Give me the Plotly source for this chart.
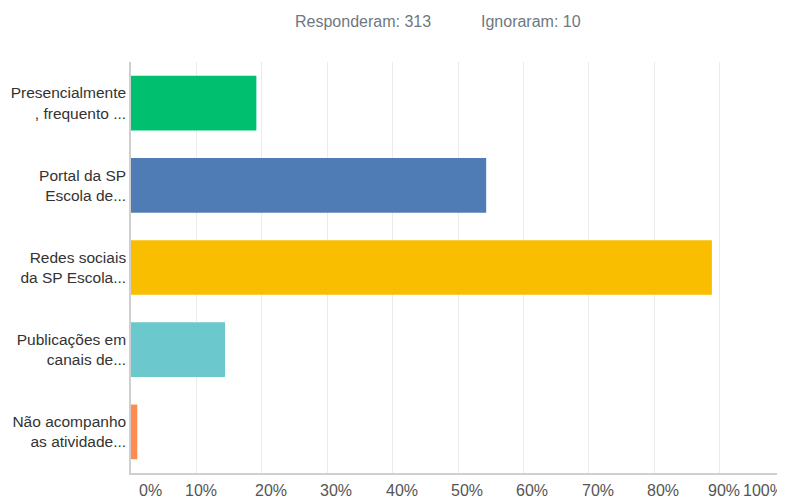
import plotly.graph_objects as go

categories = [
    "Presencialmente<br>, frequento ...",
    "Portal da SP<br>Escola de...",
    "Redes sociais<br>da SP Escola...",
    "Publicações em<br>canais de...",
    "Não acompanho<br>as atividade...",
]
values = [19.17, 54.31, 88.82, 14.38, 0.96]
colors = ["#00BF6F", "#507CB6", "#F9BE00", "#6BC8CD", "#FF8B4F"]

tick_values = [0, 10, 20, 30, 40, 50, 60, 70, 80, 90, 100]
tick_labels = ["0%", "10%", "20%", "30%", "40%", "50%", "60%", "70%", "80%", "90%", "100%"]
tick_shifts = [19, 5, 9, 9, 9, 9, 9, 9, 9, 4, -22]

header_texts = ["Responderam: 313", "Ignoraram: 10"]

# page body has an 8px margin; size the figure so the plot lands where the reference has it
OFF = 8
W, H = 785 - OFF, 501 - OFF
ML, MR, MT, MB = 131 - OFF, 0, 62 - OFF, 28
pw = W - ML - MR
ph = H - MT - MB

fig = go.Figure(
    go.Bar(
        x=values,
        y=categories,
        orientation="h",
        marker=dict(color=colors, line=dict(width=0)),
        hoverinfo="x+y",
    )
)

annotations = []
for v, lab, sh in zip(tick_values, tick_labels, tick_shifts):
    annotations.append(dict(
        x=v, y=0, xref="x", yref="paper", text=lab, showarrow=False,
        xanchor="center", yanchor="middle", xshift=sh, yshift=-17,
        font=dict(family="Liberation Sans, Arial, sans-serif", size=16, color="#555555"),
    ))

header_cx = [362.5, 530.5]
header_cy = 22
for t, cx in zip(header_texts, header_cx):
    annotations.append(dict(
        x=(cx - OFF - ML) / pw, y=(H - MB - (header_cy - OFF)) / ph,
        xref="paper", yref="paper", text=t,
        showarrow=False, xanchor="center", yanchor="middle",
        font=dict(family="Liberation Sans, Arial, sans-serif", size=16, color="#6F7880"),
    ))

fig.update_layout(
    width=W, height=H,
    margin=dict(l=ML, r=MR, t=MT, b=MB, pad=0),
    paper_bgcolor="white", plot_bgcolor="white",
    bargap=0.335,
    showlegend=False,
    annotations=annotations,
    xaxis=dict(
        range=[0, 100], tickvals=tick_values, showticklabels=False,
        showgrid=True, gridcolor="#EBEBEB", gridwidth=1,
        zeroline=False, showline=True, linecolor="#CFCFCF", linewidth=1.5,
        ticks="", fixedrange=True,
    ),
    yaxis=dict(
        autorange="reversed", automargin=False,
        showgrid=False, zeroline=False,
        showline=True, linecolor="#CFCFCF", linewidth=1.5,
        ticks="", ticklabelstandoff=0,
        tickfont=dict(family="Liberation Sans, Arial, sans-serif", size=15.5, color="#333333"),
        fixedrange=True,
    ),
)

fig.write_html("out.html")
